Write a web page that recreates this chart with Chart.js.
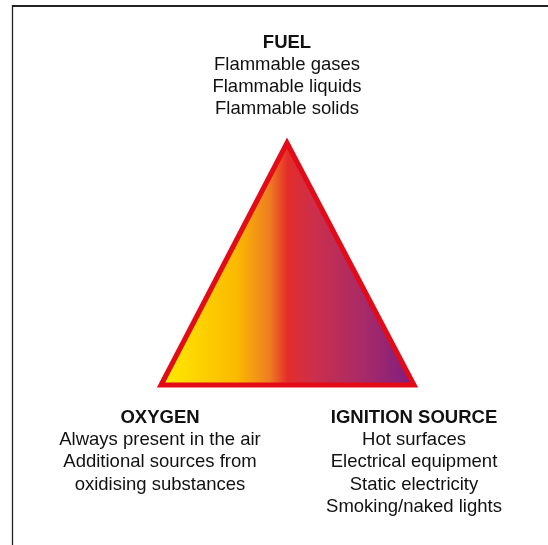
<!DOCTYPE html>
<html>
<head>
<meta charset="utf-8">
<script src="https://cdn.jsdelivr.net/npm/chart.js@4.4.1/dist/chart.umd.min.js"></script>
<style>
    html, body { margin: 0; padding: 0; background: #fff; }
    #wrap { width: 548px; height: 545px; }
</style>
</head>
<body>
<div id="wrap"><canvas id="myChart" width="548" height="545"></canvas></div>
<script>
// triangle corners: left base, apex, right base
const triangleX = [161, 287, 414];
const triangleY = [385, 143, 385];
const baseLine = 385;

// the three sides of the fire triangle
const groupTitles = ["FUEL", "OXYGEN", "IGNITION SOURCE"];
const groupX = [287, 160, 414];
const groupY = [47.5, 423, 423];
const fuelLines = ["Flammable gases", "Flammable liquids", "Flammable solids"];
const oxygenLines = ["Always present in the air", "Additional sources from", "oxidising substances"];
const ignitionLines = ["Hot surfaces", "Electrical equipment", "Static electricity", "Smoking/naked lights"];
const groupLines = [fuelLines, oxygenLines, ignitionLines];

const lineStep = 22.2;
const fontFamily = '"Liberation Sans", Arial, Helvetica, sans-serif';

function trianglePoints(closed) {
    const pts = triangleX.map(function (x, i) { return {x: x, y: triangleY[i]}; });
    if (closed) {
        // go round once more so every corner gets a mitred join
        pts.push({x: triangleX[0], y: triangleY[0]});
        pts.push({x: triangleX[1], y: triangleY[1]});
    }
    return pts;
}

function triangleGradient(context) {
    const chart = context.chart;
    if (!chart.chartArea) {
        return '#e42d2a';
    }
    const xs = chart.scales.x;
    const x0 = xs.getPixelForValue(Math.min(...triangleX));
    const x1 = xs.getPixelForValue(Math.max(...triangleX));
    const g = chart.ctx.createLinearGradient(x0, 0, x1, 0);
    g.addColorStop(0.0, '#ffec00');
    g.addColorStop(0.3, '#fbb900');
    g.addColorStop(0.43, '#ee7d22');
    g.addColorStop(0.5, '#e42d2a');
    g.addColorStop(0.6, '#cc2f4b');
    g.addColorStop(0.8, '#a82a68');
    g.addColorStop(1.0, '#7e1e80');
    return g;
}

const framePlugin = {
    id: 'frame',
    beforeDraw(chart) {
        const ctx = chart.ctx;
        ctx.save();
        ctx.strokeStyle = '#222';
        ctx.lineWidth = 2;
        ctx.beginPath();
        ctx.moveTo(12, 6);
        ctx.lineTo(548, 6);
        ctx.stroke();
        ctx.lineWidth = 1.3;
        ctx.beginPath();
        ctx.moveTo(12.5, 5);
        ctx.lineTo(12.5, 545);
        ctx.stroke();
        ctx.restore();
    }
};

const labelPlugin = {
    id: 'labels',
    afterDraw(chart) {
        const ctx = chart.ctx;
        const xs = chart.scales.x;
        const ys = chart.scales.y;
        ctx.save();
        ctx.fillStyle = '#111';
        ctx.textAlign = 'center';
        ctx.textBaseline = 'alphabetic';
        groupTitles.forEach(function (title, i) {
            const px = xs.getPixelForValue(groupX[i]);
            ctx.font = 'bold 18.5px ' + fontFamily;
            ctx.fillText(title, px, ys.getPixelForValue(groupY[i]));
            ctx.font = '18.5px ' + fontFamily;
            groupLines[i].forEach(function (text, j) {
                ctx.fillText(text, px, ys.getPixelForValue(groupY[i] + (j + 1) * lineStep));
            });
        });
        ctx.restore();
    }
};

const data = {
    datasets: [{
        // outline, drawn on top
        label: 'Outline',
        data: trianglePoints(true),
        borderColor: '#e30b17',
        borderWidth: 5,
        borderJoinStyle: 'miter',
        fill: false,
        pointRadius: 0,
        tension: 0,
        order: 0
    }, {
        // gradient body
        label: 'Fire triangle',
        data: trianglePoints(false),
        borderWidth: 0,
        borderColor: 'rgba(0,0,0,0)',
        backgroundColor: triangleGradient,
        fill: {value: baseLine},
        pointRadius: 0,
        tension: 0,
        order: 1
    }]
};

const config = {
    type: 'line',
    data: data,
    options: {
        responsive: false,
        animation: false,
        layout: {padding: 0},
        plugins: {
            legend: {display: false},
            tooltip: {enabled: false}
        },
        scales: {
            x: {type: 'linear', min: 0, max: 548, display: false},
            y: {type: 'linear', min: 0, max: 545, reverse: true, display: false}
        }
    },
    plugins: [framePlugin, labelPlugin]
};

const myChart = new Chart(document.getElementById('myChart'), config);
</script>
</body>
</html>
